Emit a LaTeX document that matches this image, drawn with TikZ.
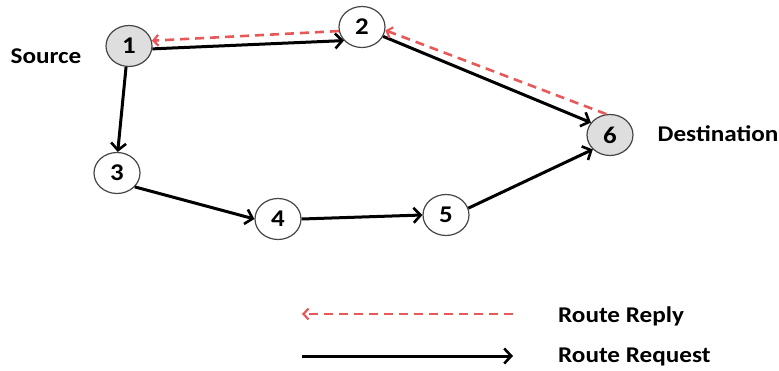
\documentclass[tikz,border=0pt]{standalone}
\usepackage{fontspec}
\setmainfont{Carlito}[FakeStretch=1.12]
\usetikzlibrary{arrows.meta,shapes.geometric}
\definecolor{replyred}{RGB}{232,88,88}
\definecolor{nodegray}{RGB}{222,222,222}
\definecolor{edgegray}{RGB}{70,70,70}
\begin{document}
\begin{tikzpicture}[x=1pt,y=-1pt,
  vertex/.style={ellipse,draw=edgegray,line width=1.2pt,fill=white,minimum width=46pt,minimum height=41pt,inner sep=0pt,font=\fontsize{24}{26}\selectfont\bfseries},
  endvertex/.style={vertex,fill=nodegray},
  lbl/.style={font=\fontsize{22.5}{25}\selectfont\bfseries,inner sep=0pt},
  req/.style={line width=3pt,-{Straight Barb[length=7pt,width=15pt,line width=2.6pt]}},
  rep/.style={line width=2.6pt,draw=replyred,dash pattern=on 9pt off 6pt,-{Straight Barb[length=5pt,width=11pt,line width=2.2pt]}}]
\useasboundingbox (0,0) rectangle (779,371);
\node[endvertex] (n1) at (129,46) {1};
\node[vertex] (n2) at (362,27) {2};
\node[vertex] (n3) at (117,173) {3};
\node[vertex] (n4) at (278,219) {4};
\node[vertex] (n5) at (446,215) {5};
\node[endvertex] (n6) at (610,135) {6};
\node[lbl] (src) at (46,56) {Source};
\node[lbl] (dst) at (718,134) {Destination};
\draw[req] (n1.-7) -- (n2.217);
\draw[rep] (n2.190) -- (n1.13);
\draw[req] (n2.-24) -- (n6.147);
\draw[rep] (n6.100) -- (n2.-8);
\draw[req] (n1.262) -- (n3.88);
\draw[req] (n3.-38) -- (n4.180);
\draw[req] (n4.east) -- (n5.west);
\draw[req] (n5.17) -- (n6.220);
\coordinate (r1) at (513,314);
\coordinate (r2) at (302,314);
\coordinate (q1) at (302,356);
\coordinate (q2) at (513,356);
\draw[rep] (r1) -- (r2);
\draw[req] (q1) -- (q2);
\node[lbl,anchor=west] (lrep) at (558,316) {Route Reply};
\node[lbl,anchor=west] (lreq) at (558,357) {Route Request};
\end{tikzpicture}
\end{document}
